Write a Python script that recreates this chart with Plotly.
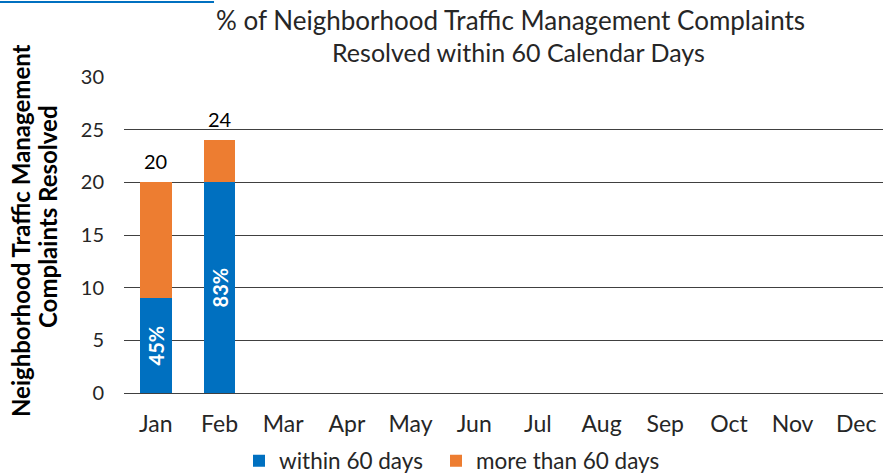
import plotly.graph_objects as go

months = ["Jan", "Feb", "Mar", "Apr", "May", "Jun", "Jul", "Aug", "Sep", "Oct", "Nov", "Dec"]
within_60 = [9, 20, None, None, None, None, None, None, None, None, None, None]
more_than_60 = [11, 4, None, None, None, None, None, None, None, None, None, None]
pct_labels = ["45%", "83%", "", "", "", "", "", "", "", "", "", ""]
totals = [20, 24]
total_months = ["Jan", "Feb"]
y_ticks = [0, 5, 10, 15, 20, 25, 30]

FONT = "Lato"
BLUE = "#0070C0"
ORANGE = "#ED7D31"
TXT = "#262626"

fig = go.Figure()
fig.add_trace(go.Bar(
    x=months, y=within_60, name="within 60 days", legend="legend",
    showlegend=True,
    marker=dict(color=BLUE, line=dict(width=0)),
    text=["<b>%s</b>" % t if t else "" for t in pct_labels],
    textposition="inside", textangle=-90,
    insidetextanchor="middle",
    textfont=dict(color="white", size=20, family=FONT),
))
fig.add_trace(go.Bar(
    x=months, y=more_than_60, name="more than 60 days", legend="legend2",
    showlegend=True,
    marker=dict(color=ORANGE, line=dict(width=0)),
))

annotations = []
for m, t in zip(total_months, totals):
    annotations.append(dict(
        x=m, y=t, xref="x", yref="y", text=str(t), showarrow=False,
        xanchor="center", yanchor="bottom", yshift=7,
        font=dict(size=20, family=FONT, color="black"),
    ))

annotations += [
    dict(text="% of Neighborhood Traffic Management Complaints",
         xref="paper", yref="paper", x=(510 - 124) / 759, y=(393 - 20) / 316,
         xanchor="center", yanchor="middle", showarrow=False,
         font=dict(size=26, family=FONT, color=TXT)),
    dict(text="Resolved within 60 Calendar Days",
         xref="paper", yref="paper", x=(518 - 124) / 759, y=(393 - 52) / 316,
         xanchor="center", yanchor="middle", showarrow=False,
         font=dict(size=25, family=FONT, color=TXT)),
    dict(text="<b>Neighborhood Traffic Management</b>",
         xref="paper", yref="paper", x=(20 - 124) / 759, y=(393 - 231) / 316,
         xanchor="center", yanchor="middle", textangle=-90, showarrow=False,
         font=dict(size=24, family=FONT, color="black")),
    dict(text="<b>Complaints Resolved</b>",
         xref="paper", yref="paper", x=(47 - 124) / 759, y=(393 - 217) / 316,
         xanchor="center", yanchor="middle", textangle=-90, showarrow=False,
         font=dict(size=24, family=FONT, color="black")),
]

legend_common = dict(
    orientation="h", xref="container", yref="container",
    xanchor="left", y=0.0315, yanchor="middle", visible=True,
    font=dict(size=22.5, family=FONT, color=TXT),
)

fig.update_layout(
    width=883, height=476,
    barmode="stack", bargap=0.5, showlegend=True,
    plot_bgcolor="white", paper_bgcolor="white",
    margin=dict(l=124, r=0, t=77, b=83, autoexpand=False),
    font=dict(family=FONT, color=TXT, size=20),
    xaxis=dict(
        categoryorder="array", categoryarray=months,
        range=[-0.5, 11.42], automargin=False,
        showgrid=False, showline=False, zeroline=False,
        ticks="", ticklabelstandoff=15,
        tickfont=dict(size=23, family=FONT, color=TXT),
    ),
    yaxis=dict(
        range=[0, 30], tickvals=y_ticks, automargin=False,
        showgrid=True, gridcolor="#404040", gridwidth=1,
        zeroline=True, zerolinecolor="#404040", zerolinewidth=1,
        showline=False, ticks="", ticklabelstandoff=19,
        tickfont=dict(size=20, family=FONT, color=TXT),
    ),
    legend=dict(x=239 / 883, **legend_common),
    legend2=dict(x=436 / 883, **legend_common),
    annotations=annotations,
    shapes=[dict(
        type="line", xref="paper", yref="paper",
        x0=-0.1634, x1=0.1186, y0=1.237, y1=1.237,
        line=dict(color="#0070C0", width=2),
    )],
)

fig.write_html("out.html", post_script="document.body.style.margin='0';",
               config={"displayModeBar": False})
